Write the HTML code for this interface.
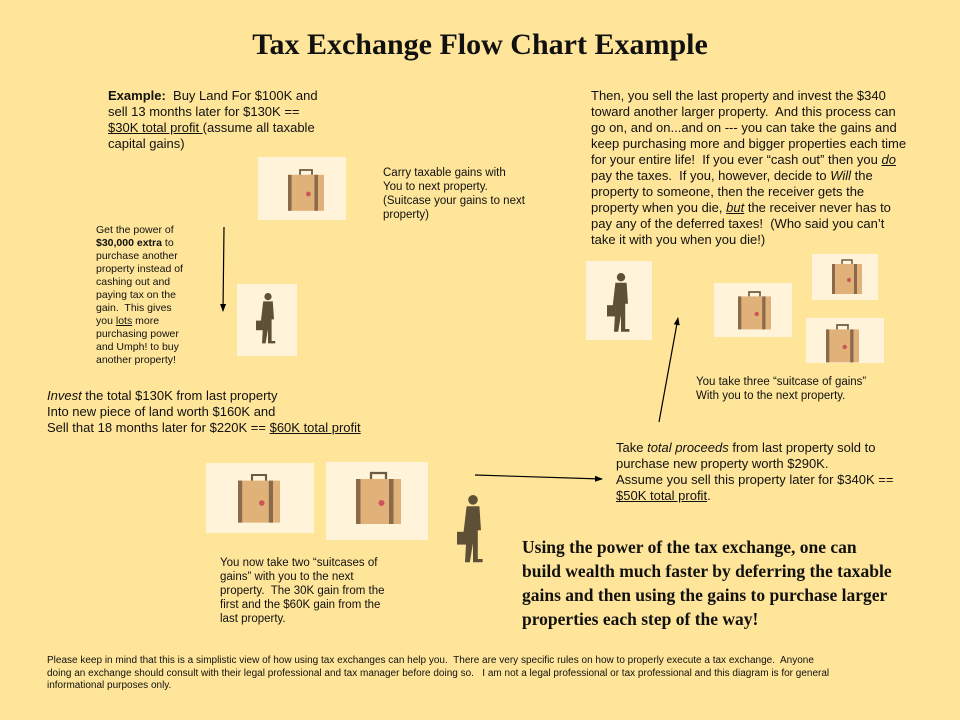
<!DOCTYPE html>
<html><head><meta charset="utf-8"><style>
body{margin:0;width:960px;height:720px;background:#FFE599;position:relative;overflow:hidden;font-family:"Liberation Sans",sans-serif;color:#111}
.t{position:absolute;font-size:13px;line-height:16px;white-space:nowrap}
.s{position:absolute;font-size:11px;line-height:13px;white-space:nowrap}
.b{position:absolute;background:#FFF4DA}
h1{position:absolute;left:0;width:960px;top:28px;margin:0;text-align:center;font:bold 30px "Liberation Serif",serif}
.big{position:absolute;left:522px;top:535px;font:bold 17.5px/24px "Liberation Serif",serif;white-space:nowrap}
u{text-decoration:underline}
</style></head><body>
<h1>Tax Exchange Flow Chart Example</h1>
<div class="t" style="left:108px;top:88px"><b>Example:</b>&nbsp; Buy Land For $100K and<br>sell 13 months later for $130K ==<br><u>$30K total profit </u> (assume all taxable<br>capital gains)</div>
<div class="s" style="left:383px;top:166px;font-size:11.5px;line-height:14px">Carry taxable gains with<br>You to next property.<br>(Suitcase your gains to next<br>property)</div>
<div class="s" style="left:96px;top:224px;font-size:10.5px">Get the power of<br><b>$30,000 extra</b> to<br>purchase another<br>property instead of<br>cashing out and<br>paying tax on the<br>gain.&nbsp; This gives<br>you <u>lots</u> more<br>purchasing power<br>and Umph! to buy<br>another property!</div>
<div class="t" style="left:47px;top:388px"><i>Invest</i> the total $130K from last property<br>Into new piece of land worth $160K and<br>Sell that 18 months later for $220K == <u>$60K total profit</u></div>
<div class="s" style="left:220px;top:556px;font-size:11.5px;line-height:14px">You now take two “suitcases of<br>gains” with you to the next<br>property.&nbsp; The 30K gain from the<br>first and the $60K gain from the<br>last property.</div>
<div class="t" style="left:591px;top:88px">Then, you sell the last property and invest the $340<br>toward another larger property.&nbsp; And this process can<br>go on, and on...and on --- you can take the gains and<br>keep purchasing more and bigger properties each time<br>for your entire life!&nbsp; If you ever “cash out” then you <i><u>do</u></i><br>pay the taxes.&nbsp; If you, however, decide to <i>Will</i> the<br>property to someone, then the receiver gets the<br>property when you die, <i><u>but</u></i> the receiver never has to<br>pay any of the deferred taxes!&nbsp; (Who said you can’t<br>take it with you when you die!)</div>
<div class="s" style="left:696px;top:375px;font-size:11.5px;line-height:14px">You take three “suitcase of gains”<br>With you to the next property.</div>
<div class="t" style="left:616px;top:440px">Take <i>total proceeds</i> from last property sold to<br>purchase new property worth $290K.<br>Assume you sell this property later for $340K ==<br><u>$50K total profit</u>.</div>
<div class="big">Using the power of the tax exchange, one can<br>build wealth much faster by deferring the taxable<br>gains and then using the gains to purchase larger<br>properties each step of the way!</div>
<div class="s" style="left:47px;top:655px;font-size:10px;line-height:12.5px">Please keep in mind that this is a simplistic view of how using tax exchanges can help you.&nbsp; There are very specific rules on how to properly execute a tax exchange.&nbsp; Anyone<br>doing an exchange should consult with their legal professional and tax manager before doing so.&nbsp;&nbsp; I am not a legal professional or tax professional and this diagram is for general<br>informational purposes only.</div>

<div class="b" style="left:258px;top:157px;width:88px;height:63px"></div>
<div class="b" style="left:237px;top:284px;width:60px;height:72px"></div>
<div class="b" style="left:586px;top:261px;width:66px;height:79px"></div>
<div class="b" style="left:714px;top:283px;width:78px;height:54px"></div>
<div class="b" style="left:812px;top:254px;width:66px;height:46px"></div>
<div class="b" style="left:806px;top:318px;width:78px;height:45px"></div>
<div class="b" style="left:206px;top:463px;width:108px;height:70px"></div>
<div class="b" style="left:326px;top:462px;width:102px;height:78px"></div>

<svg width="960" height="720" style="position:absolute;left:0;top:0">
<defs>
<g id="sc"><rect x="0" y="4" width="30" height="30" fill="#E0B27A"/><rect x="0" y="4" width="3" height="30" fill="#8a6a4a"/><rect x="22" y="4" width="3" height="30" fill="#8a6a4a"/><path d="M10 4 V0 H20 V4" fill="none" stroke="#6d5a45" stroke-width="1.5"/><circle cx="17" cy="20" r="2" fill="#c55"/></g>
<g id="man" fill="#5E5037"><circle cx="10" cy="3" r="3"/><path d="M6 7 H14 L15 22 H13 L13 40 H16 V42 H10 L10 30 L8 42 H5 L6 24 H4 Z"/><rect x="0" y="23" width="6" height="8"/></g>
<marker id="a" markerWidth="8" markerHeight="8" refX="7" refY="4" orient="auto" markerUnits="userSpaceOnUse"><path d="M0 1 L8 4 L0 7 Z" fill="#000"/></marker>
</defs>
<use href="#sc" transform="translate(288,170) scale(1.2)"/>
<use href="#sc" transform="translate(738,292) scale(1.1)"/>
<use href="#sc" transform="translate(832,260) scale(1)"/>
<use href="#sc" transform="translate(826,325) scale(1.1)"/>
<use href="#sc" transform="translate(238,475) scale(1.4)"/>
<use href="#sc" transform="translate(356,473) scale(1.5)"/>
<use href="#man" transform="translate(256,293) scale(1.2)"/>
<use href="#man" transform="translate(607,273) scale(1.4)"/>
<use href="#man" transform="translate(457,495) scale(1.6)"/>
<line x1="224" y1="227" x2="223" y2="311" stroke="#000" stroke-width="1.2" marker-end="url(#a)"/>
<line x1="475" y1="475" x2="602" y2="479" stroke="#000" stroke-width="1.2" marker-end="url(#a)"/>
<line x1="659" y1="422" x2="678" y2="318" stroke="#000" stroke-width="1.2" marker-end="url(#a)"/>
</svg>
</body></html>
